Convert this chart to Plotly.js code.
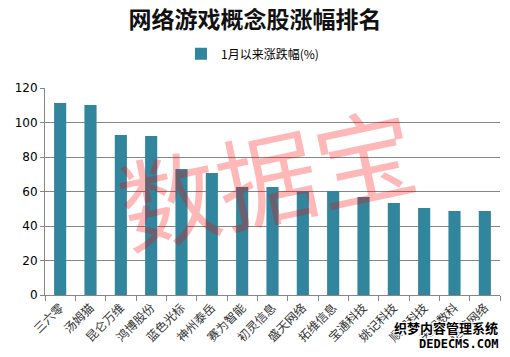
<!DOCTYPE html>
<html>
<head>
<meta charset="utf-8">
<script src="https://cdn.plot.ly/plotly-3.0.1.min.js"></script>
<style>html,body{margin:0;padding:0;background:#fff;}#chart{width:510px;height:357px;}</style>
</head>
<body>
<div id="chart"></div>
<script>
var chartTitle = "网络游戏概念股涨幅排名";
var seriesName = "1月以来涨跌幅(%)";
var stocks = ["三六零","汤姆猫","昆仑万维","鸿博股份","蓝色光标","神州泰岳","赛为智能","初灵信息","盛天网络","拓维信息","宝通科技","姚记科技","顺网科技","天娱数科","恺英网络"];
var gains = [111.3, 110.1, 92.8, 92.2, 73.0, 70.7, 62.6, 62.6, 60.3, 60.3, 56.8, 53.3, 50.4, 48.7, 48.7];
var yTicks = [0, 20, 40, 60, 80, 100, 120];

var cjk = '"Noto Sans CJK SC", "Noto Sans", sans-serif';

var data = [{
  type: 'bar',
  x: stocks,
  y: gains,
  name: seriesName,
  width: 0.4,
  marker: {color: '#31859C'},
  showlegend: true
}];

var layout = {
  width: 510,
  height: 357,
  margin: {l: 45, r: 10, t: 88, b: 62},
  paper_bgcolor: '#ffffff',
  plot_bgcolor: '#ffffff',
  title: {
    text: '<b>' + chartTitle + '</b>',
    font: {family: cjk, size: 23, color: '#111111'},
    x: 0.5, xanchor: 'center',
    y: 0.945, yanchor: 'middle', yref: 'container'
  },
  showlegend: true,
  legend: {
    orientation: 'h',
    x: 0.456, xanchor: 'center',
    y: 1.165, yanchor: 'middle',
    font: {family: cjk, size: 12, color: '#000000'},
    itemwidth: 30
  },
  bargap: 0.6,
  xaxis: {
    type: 'category',
    tickangle: -45,
    tickson: 'boundaries',
    ticks: 'outside',
    ticklen: 5,
    tickcolor: '#868686',
    showline: true,
    linecolor: '#868686',
    linewidth: 1,
    showgrid: false,
    tickfont: {family: cjk, size: 12, color: '#333333'},
    fixedrange: true
  },
  yaxis: {
    range: [0, 120],
    tickvals: yTicks,
    ticktext: yTicks.map(String),
    ticks: 'outside',
    ticklen: 4,
    tickcolor: '#868686',
    showline: true,
    linecolor: '#868686',
    linewidth: 1,
    showgrid: true,
    gridcolor: '#868686',
    gridwidth: 1,
    zeroline: false,
    tickfont: {family: '"DejaVu Sans", Verdana, sans-serif', size: 12, color: '#000000'},
    fixedrange: true
  },
  annotations: [
    {
      text: '数据宝',
      xref: 'paper', yref: 'paper',
      x: 0.485, y: 0.58,
      xanchor: 'center', yanchor: 'middle',
      showarrow: false,
      textangle: -12,
      font: {family: cjk, size: 100, color: 'rgba(255,0,0,0.28)'}
    },
    {
      text: '<b>织梦内容管理系统</b>',
      xref: 'paper', yref: 'paper',
      x: 1.0, y: -0.155,
      xanchor: 'right', yanchor: 'middle',
      showarrow: false,
      font: {family: cjk, size: 13, color: '#000000',
             shadow: '1px 1px 0 #fff, -1px -1px 0 #fff, 1px -1px 0 #fff, -1px 1px 0 #fff'}
    },
    {
      text: '<b>DEDECMS.COM</b>',
      xref: 'paper', yref: 'paper',
      x: 1.0, y: -0.235,
      xanchor: 'right', yanchor: 'middle',
      showarrow: false,
      font: {family: '"DejaVu Sans Mono", monospace', size: 12, color: '#000000',
             shadow: '1px 1px 0 #fff, -1px -1px 0 #fff, 1px -1px 0 #fff, -1px 1px 0 #fff'}
    }
  ]
};

Plotly.newPlot('chart', data, layout, {displayModeBar: false, staticPlot: true});
</script>
</body>
</html>
